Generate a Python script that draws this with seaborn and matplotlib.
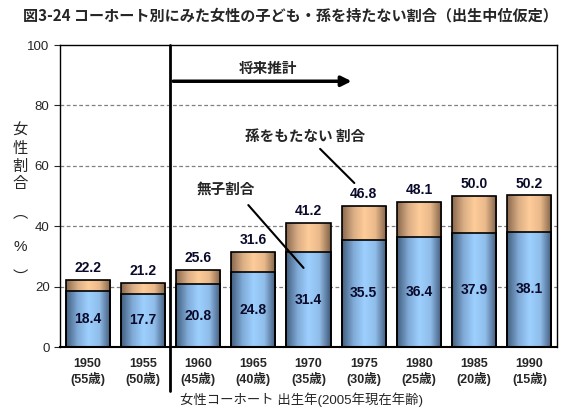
import numpy as np
import pandas as pd
import matplotlib
matplotlib.use("Agg")
import matplotlib.pyplot as plt
import seaborn as sns
from matplotlib.colors import LinearSegmentedColormap

# data
years = ["1950", "1955", "1960", "1965", "1970", "1975", "1980", "1985", "1990"]
ages = ["55歳", "50歳", "45歳", "40歳", "35歳", "30歳", "25歳", "20歳", "15歳"]
childless = [18.4, 17.7, 20.8, 24.8, 31.4, 35.5, 36.4, 37.9, 38.1]
no_grandchild = [22.2, 21.2, 25.6, 31.6, 41.2, 46.8, 48.1, 50.0, 50.2]

sns.set_style("white")
plt.rcParams['font.family'] = ['Liberation Sans', 'Noto Sans CJK JP', 'DejaVu Sans']
jp = ['Noto Sans CJK JP', 'DejaVu Sans']

df = pd.DataFrame({"cohort": [f"{y}\n({a})" for y, a in zip(years, ages)],
                   "childless": childless, "total": no_grandchild})

fig = plt.figure(figsize=(5.65, 4.11), dpi=100)
ax = fig.add_axes([60 / 565, 1 - 347 / 411, 497 / 565, 302 / 411])

sns.barplot(data=df, x="cohort", y="total", color="#ffcc99", width=0.8,
            edgecolor="black", linewidth=1.2, ax=ax, zorder=3)
n_top = len(ax.patches)
sns.barplot(data=df, x="cohort", y="childless", color="#99ccff", width=0.8,
            edgecolor="black", linewidth=1.2, ax=ax, zorder=3)

# horizontal shading of the bars
blue_cm = LinearSegmentedColormap.from_list("b", ["#43607f", "#7fa9d6", "#9dd0ff", "#8fbde9", "#41597a"])
peach_cm = LinearSegmentedColormap.from_list("p", ["#8a6a4f", "#d9ad84", "#ffcc99", "#e9b98b", "#806249"])
grad = np.linspace(0, 1, 64).reshape(1, -1)
for k, p in enumerate(ax.patches):
    cm = peach_cm if k < n_top else blue_cm
    x0, y0 = p.get_x(), p.get_y()
    im = ax.imshow(grad, cmap=cm, aspect="auto", zorder=2.5,
                   extent=[x0, x0 + p.get_width(), y0, y0 + p.get_height()])
    im.set_clip_path(p)
    p.set_facecolor("none")

ax.set_xlim(-0.5, 8.5)
ax.set_ylim(0, 100)
ax.set_yticks(range(0, 101, 20))
ax.tick_params(axis="y", length=4, labelsize=9.5, direction="out", left=True)
ax.tick_params(axis="x", length=0, labelsize=9, pad=8)
for t in ax.get_xticklabels():
    t.set_fontweight("bold")
for y in range(20, 100, 20):
    ax.axhline(y, color="#808080", ls=(0, (3, 2)), lw=0.9, zorder=1)
for s in ax.spines.values():
    s.set_color("black")
    s.set_linewidth(1.0)
ax.spines["bottom"].set_linewidth(1.5)
ax.set_xlabel("")
ax.set_ylabel("")

for i in range(len(years)):
    ax.text(i, no_grandchild[i] + 1.6, f"{no_grandchild[i]:.1f}", ha="center", va="bottom",
            fontsize=10, fontweight="bold", color="#0a0a2a", zorder=5)
    ax.text(i, childless[i] / 2, f"{childless[i]:.1f}", ha="center", va="center",
            fontsize=10, fontweight="bold", color="#0a0a2a", zorder=5)

# projection divider and arrow
ax.plot([1.5, 1.5], [100, -14.5], color="black", lw=2, clip_on=False, zorder=6)
ax.annotate("", xy=(4.83, 88), xytext=(1.5, 88),
            arrowprops=dict(arrowstyle="-|>", lw=2.5, color="black", mutation_scale=15), zorder=6)
ax.text(3.27, 92.5, "将来推計", ha="center", va="center", fontsize=10.5, fontweight="bold", family=jp)

ax.text(3.94, 70, "孫をもたない 割合", ha="center", va="center", fontsize=10.5, fontweight="bold", family=jp)
ax.plot([4.21, 4.83], [65.6, 54.3], color="black", lw=1.5, zorder=6)
ax.text(2.5, 52.5, "無子割合", ha="center", va="center", fontsize=10.5, fontweight="bold", family=jp)
ax.plot([2.91, 3.91], [47, 26.2], color="black", lw=1.5, zorder=6)

fig.text(290 / 565, 0.963, "図3-24 コーホート別にみた女性の子ども・孫を持たない割合（出生中位仮定）",
         ha="center", va="center", fontsize=10.9, fontweight="bold", family=jp)

# vertical y-axis label, one character at a time
for ch, py in zip("女性割合︵%︶", [130, 148, 166, 183, 213, 247, 277]):
    fig.text(20 / 565, 1 - py / 411, ch, ha="center", va="center", fontsize=11,
             family=jp if ch != "%" else ['Liberation Sans'])
fig.text(302 / 565, 1 - 400 / 411, "女性コーホート 出生年(2005年現在年齢)", ha="center", va="center",
         fontsize=9.6, family=['Liberation Sans', 'Noto Sans CJK JP'])

fig.savefig("out.png", dpi=100)
